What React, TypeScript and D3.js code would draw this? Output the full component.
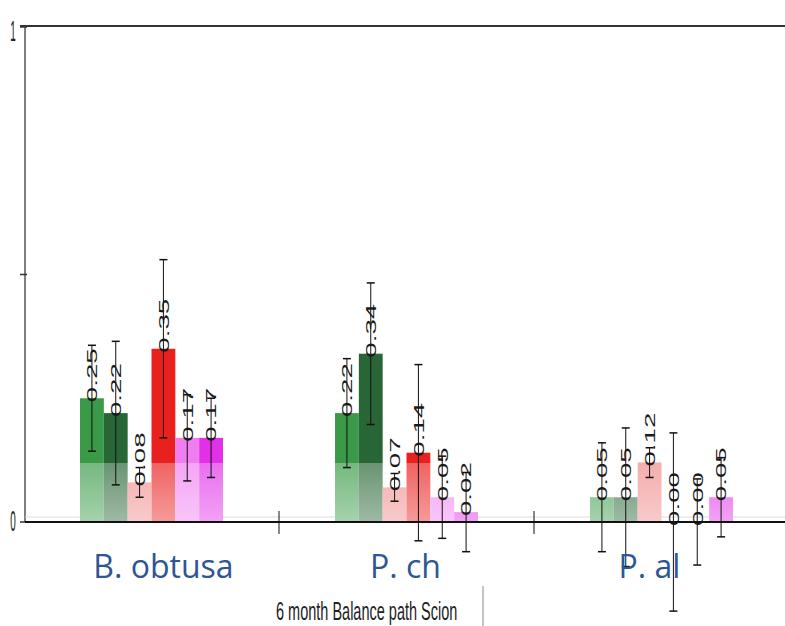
// Grouped bar chart with error bars, drawn with d3 scales in JSX

import * as d3 from 'd3'

const groups = ['B. obtusa', 'P. ch', 'P. al']
const seriesColors = ['#3a9a48', '#296636', '#f08a8a', '#e8201e', '#f07ef0', '#e030e8']

const valuesObtusa = [0.25, 0.22, 0.08, 0.35, 0.17, 0.17]
const valuesPch = [0.22, 0.34, 0.07, 0.14, 0.05, 0.02]
const valuesPal = [0.05, 0.05, 0.12, 0.0, 0.0, 0.05]

const errorsObtusa = [0.107, 0.145, 0.03, 0.18, 0.087, 0.08]
const errorsPch = [0.11, 0.143, 0.028, 0.178, 0.083, 0.08]
const errorsPal = [0.11, 0.14, 0.03, 0.18, 0.087, 0.08]

const yTicks = [0, 0.5, 1]
const yTickLabels = ['0', '', '1']
const axisTitle = '6 month Balance path Scion'

const values = [valuesObtusa, valuesPch, valuesPal]
const errors = [errorsObtusa, errorsPch, errorsPal]

const W = 785
const H = 626

export default function App() {
  const y = d3.scaleLinear().domain([0, 1]).range([522, 27])
  const x0 = d3.scaleBand().domain(groups).range([24, 789]).paddingInner(0)
  const x1 = d3
    .scaleBand()
    .domain(d3.range(seriesColors.length).map(String))
    .range([0, x0.bandwidth()])
    .paddingInner(0)
    .paddingOuter(2.35)
  const fmt = d3.format('.2f')
  const labelShift = [12, -1, -12]

  return (
    <div style={{ position: 'absolute', left: 0, top: 0 }}>
      <svg width={W} height={H} style={{ display: 'block', background: '#fff' }}>
        <defs>
          {seriesColors.map((c, i) => {
            const light = d3.interpolateRgb(c, '#ffffff')
            return (
              <linearGradient
                key={i}
                id={`g${i}`}
                gradientUnits="userSpaceOnUse"
                x1="0"
                y1={y(1)}
                x2="0"
                y2={y(0)}
              >
                <stop offset="0%" stopColor={c} />
                <stop offset="88%" stopColor={c} />
                <stop offset="88%" stopColor={light(0.3)} />
                <stop offset="100%" stopColor={light(0.55)} />
              </linearGradient>
            )
          })}
        </defs>

        {/* frame */}
        <line x1={20} x2={W} y1={26} y2={26} stroke="#333" strokeWidth={2} />
        <line x1={25} x2={25} y1={26} y2={y(0)} stroke="#555" strokeWidth={1.5} />
        <line x1={25} x2={W} y1={517} y2={517} stroke="#ddd" strokeWidth={1} />

        {/* y ticks */}
        {yTicks.map((t, i) => (
          <g key={i}>
            <line x1={20} x2={27} y1={y(t)} y2={y(t)} stroke="#333" strokeWidth={1.5} />
            {yTickLabels[i] && (
              <text
                transform={`translate(13, ${y(t) + (t === 0 ? 9 : 14)}) scale(0.9, 2.6)`}
                textAnchor="middle"
                fontFamily="Liberation Sans, Arial, sans-serif"
                fontSize={11}
                fill="#222"
              >
                {yTickLabels[i]}
              </text>
            )}
          </g>
        ))}

        {/* bars */}
        {groups.map((g, gi) => (
          <g key={g} transform={`translate(${x0(g)}, 0)`}>
            {values[gi].map((v, si) => {
              const bx = x1(String(si))!
              const bw = x1.bandwidth()
              const cx = bx + bw / 2
              const e = errors[gi][si]
              return (
                <g key={si}>
                  <rect
                    x={bx}
                    y={y(v)}
                    width={bw}
                    height={y(0) - y(v)}
                    fill={`url(#g${si})`}
                  />
                  <line x1={cx} x2={cx} y1={y(v + e)} y2={y(v - e)} stroke="#111" strokeWidth={1} />
                  <line x1={cx - 4} x2={cx + 4} y1={y(v + e)} y2={y(v + e)} stroke="#111" strokeWidth={1.5} />
                  <line x1={cx - 4} x2={cx + 4} y1={y(v - e)} y2={y(v - e)} stroke="#111" strokeWidth={1.5} />
                  <text
                    transform={`translate(${cx}, ${y(v) + 4}) rotate(-90) scale(1.85, 1)`}
                    dy="0.36em"
                    fontFamily="Liberation Sans, Arial, sans-serif"
                    fontSize={15}
                    fill="#1a1a1a"
                  >
                    {fmt(v)}
                  </text>
                </g>
              )
            })}
          </g>
        ))}

        {/* x axis */}
        <line x1={25} x2={W} y1={y(0)} y2={y(0)} stroke="#111" strokeWidth={2} />
        {groups.slice(1).map((g) => (
          <line key={g} x1={x0(g)} x2={x0(g)} y1={511} y2={534} stroke="#111" strokeWidth={1} />
        ))}

        {/* category labels */}
        {groups.map((g, gi) => (
          <text
            key={g}
            x={x0(g)! + x0.bandwidth() / 2 + labelShift[gi]}
            y={578}
            textAnchor="middle"
            fontFamily="Open Sans, sans-serif"
            fontSize={32}
            fill="#2e5694"
          >
            {g}
          </text>
        ))}

        {/* axis title */}
        <text
          transform="translate(276, 620) scale(1, 1.8)"
          fontFamily="Liberation Sans, Arial, sans-serif"
          fontSize={14.5}
          fill="#222"
        >
          {axisTitle}
        </text>
        <line x1={483} x2={483} y1={586} y2={H} stroke="#888" strokeWidth={1} />
      </svg>
    </div>
  )
}
